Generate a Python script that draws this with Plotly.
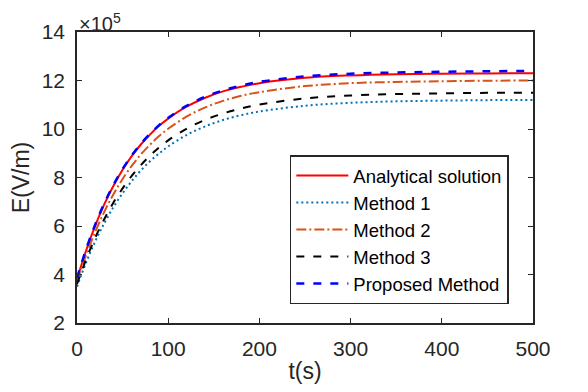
import plotly.graph_objects as go

t = [0, 10, 20, 30, 40, 50, 60, 70, 80, 90, 100, 120, 140, 160, 180, 200, 250, 300, 350, 400, 450, 500]
analytical = [3.80, 4.99, 6.02, 6.90, 7.66, 8.32, 8.88, 9.36, 9.77, 10.13, 10.43, 10.92, 11.28, 11.55, 11.74, 11.89, 12.11, 12.21, 12.26, 12.28, 12.29, 12.30]
method1 = [3.50, 4.50, 5.37, 6.12, 6.78, 7.35, 7.85, 8.29, 8.67, 8.99, 9.28, 9.75, 10.10, 10.37, 10.57, 10.72, 10.96, 11.08, 11.14, 11.17, 11.19, 11.20]
method2 = [3.70, 4.80, 5.76, 6.59, 7.31, 7.94, 8.48, 8.95, 9.35, 9.71, 10.01, 10.51, 10.88, 11.16, 11.37, 11.52, 11.77, 11.89, 11.94, 11.97, 11.99, 12.00]
method3 = [3.60, 4.62, 5.52, 6.29, 6.97, 7.55, 8.07, 8.51, 8.90, 9.24, 9.53, 10.01, 10.37, 10.64, 10.85, 11.01, 11.26, 11.38, 11.44, 11.47, 11.49, 11.50]
proposed = [3.85, 5.04, 6.06, 6.94, 7.70, 8.35, 8.91, 9.39, 9.80, 10.16, 10.46, 10.95, 11.32, 11.59, 11.79, 11.94, 12.17, 12.28, 12.33, 12.36, 12.38, 12.40]

names = ["Analytical solution", "Method 1", "Method 2", "Method 3", "Proposed Method"]
series = [analytical, method1, method2, method3, proposed]
colors = ["#FF0000", "#0072BD", "#D95319", "#000000", "#0000FF"]
dashes = ["solid", "2px,3px", "10px,3px,2px,3px", "8px,9px", "8px,9px"]
widths = [2, 2, 2, 2, 2.5]

x_ticks = [0, 100, 200, 300, 400, 500]
y_ticks = [2, 4, 6, 8, 10, 12, 14]

FONT = "Liberation Sans, Arial, sans-serif"
AX = "#262626"
fig = go.Figure()
for name, ys, c, d, w in zip(names, series, colors, dashes, widths):
    fig.add_trace(go.Scatter(x=t, y=ys, mode="lines", name=name,
                             line=dict(color=c, dash=d, width=w, shape="spline")))

axis_common = dict(showgrid=False, zeroline=False, ticks="inside", ticklen=5,
                   tickwidth=1.2, tickcolor=AX, showline=True, linecolor=AX,
                   linewidth=1.5, mirror="ticks", automargin=False,
                   tickfont=dict(family=FONT, size=21, color=AX))
fig.update_xaxes(range=[0, 500], tickvals=x_ticks, ticklabelstandoff=6,
                 title=dict(text="t(s)", font=dict(family=FONT, size=23, color=AX), standoff=4),
                 **axis_common)
fig.update_yaxes(range=[2, 14], tickvals=y_ticks, ticklabelstandoff=6,
                 title=dict(text="E(V/m)", font=dict(family=FONT, size=23, color=AX), standoff=6),
                 **axis_common)

fig.add_annotation(text="×10<sup>5</sup>", xref="paper", yref="paper", x=0, y=1.0,
                   xanchor="left", yanchor="bottom", showarrow=False, yshift=-5,
                   font=dict(family=FONT, size=20, color=AX))

fig.update_layout(
    width=580, height=376,
    margin=dict(l=69, r=55, t=24, b=61),
    paper_bgcolor="white", plot_bgcolor="white",
    showlegend=True,
    legend=dict(x=0.947, y=0.064, xanchor="right", yanchor="bottom",
                bordercolor=AX, borderwidth=1.5, bgcolor="white",
                font=dict(family=FONT, size=18.5, color="black"),
                tracegroupgap=0, itemwidth=52),
)
fig.write_html("out.html")
